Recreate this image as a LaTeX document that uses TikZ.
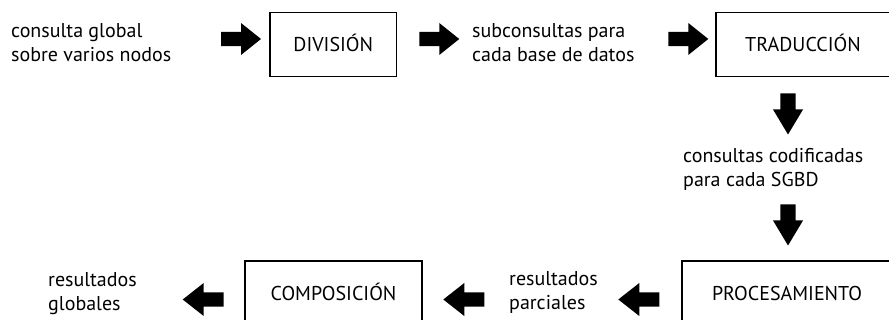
\documentclass[tikz,border=0pt]{standalone}
\usepackage{fontspec}
\setmainfont{PT Sans}
\begin{document}
\begin{tikzpicture}[x=1pt,y=-1pt,
  txt/.style={font=\fontsize{20}{24}\selectfont},
  box/.style={txt, draw, line width=1.6pt, inner sep=0pt, text height=14pt, text depth=0pt, minimum height=64pt},
  lbl/.style={txt, anchor=west, align=left, inner sep=0pt},
  rarrow/.pic={\fill (0,-7.2) -- (20,-7.2) -- (20,-16) -- (40,0) -- (20,16) -- (20,7.2) -- (0,7.2) -- cycle;},
  larrow/.pic={\fill (0,0) -- (21,-16.5) -- (21,-7.2) -- (41,-7.2) -- (41,7.2) -- (21,7.2) -- (21,16.5) -- cycle;},
  darrow/.pic={\fill (-7.7,0) -- (7.7,0) -- (7.7,16) -- (15,16) -- (0,41) -- (-15,16) -- (-7.7,16) -- cycle;}
]
\useasboundingbox (0,0) rectangle (889,320);
\clip (0,0) rectangle (889,320);

% boxes
\node[box, minimum width=126.7pt] (div) at (333.3,44.5) {DIVISIÓN};
\node[box, minimum width=174pt] (tra) at (803,44.5) {TRADUCCIÓN};
\node[box, minimum width=210pt, minimum height=66pt] (pro) at (787,294) {PROCESAMIENTO};
\node[box, minimum width=177pt, minimum height=66pt] (com) at (333.5,294) {COMPOSICIÓN};

% labels
\node[lbl] (l1) at (11,45) {consulta global\strut\\sobre varios nodos\strut};
\node[lbl] (l2) at (472,45) {subconsultas para\strut\\cada base de datos\strut};
\node[lbl] (l3) at (683,170) {consultas codificadas\strut\\para cada SGBD\strut};
\node[lbl] (l4) at (509,293) {resultados\strut\\parciales\strut};
\node[lbl] (l5) at (48,293.5) {resultados\strut\\globales\strut};

% block arrows
\pic at (221,39) {rarrow};
\pic at (419.3,39) {rarrow};
\pic at (668.3,39) {rarrow};
\pic at (788,93.5) {darrow};
\pic at (788,204.5) {darrow};
\pic at (618.3,299.5) {larrow};
\pic at (443.3,299.5) {larrow};
\pic at (182.7,299.5) {larrow};
\end{tikzpicture}
\end{document}
